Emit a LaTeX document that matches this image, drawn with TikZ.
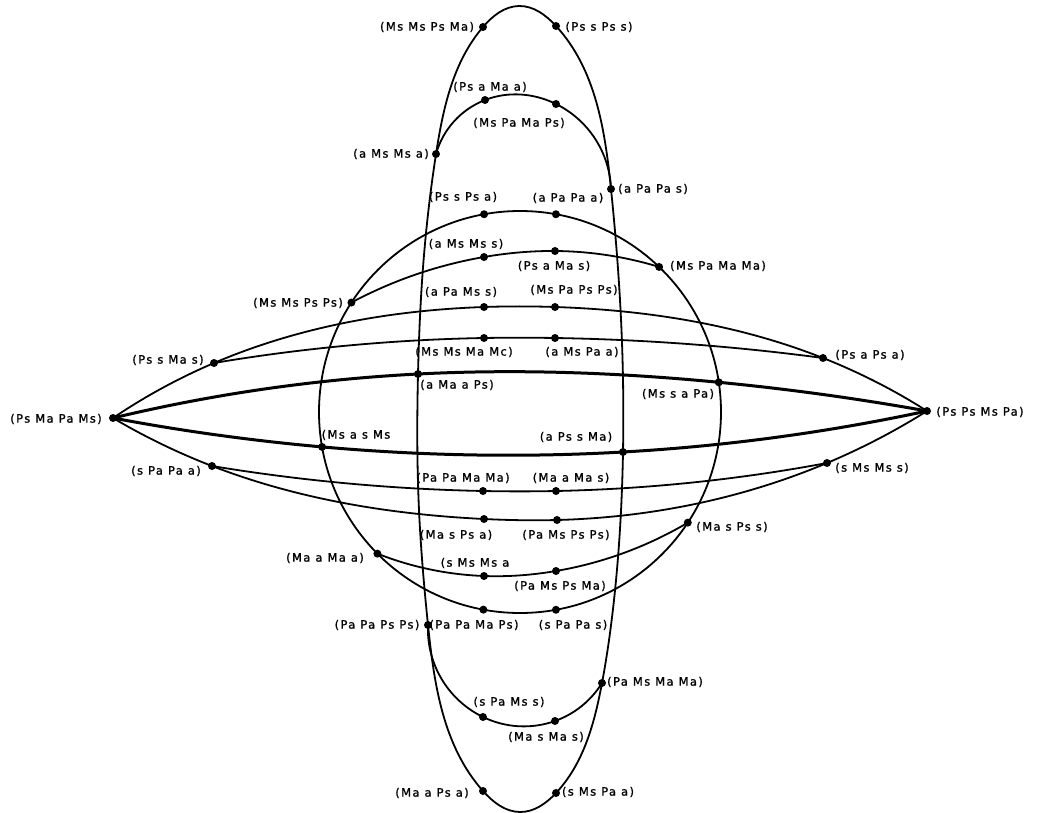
\documentclass[tikz,border=0pt]{standalone}
\usepackage{fontspec}
\setmainfont{DejaVu Sans}[LetterSpace=12,FakeBold=1.2]
\usetikzlibrary{hobby,calc}
\begin{document}
\begin{tikzpicture}[x=1pt,y=-1pt,
  dot/.style={circle,fill=black,inner sep=0pt,minimum size=8pt},
  lbl/.style={inner sep=0pt,font=\fontsize{11.5}{13}\selectfont},
  ln/.style={line width=1.8pt,use Hobby shortcut},
  thk/.style={line width=3pt,use Hobby shortcut}]
\useasboundingbox (0,0) rectangle (1043,813);
% circle centre
\coordinate (C) at (520,412);
% tall shape helper coordinates
\coordinate (tTop) at (519,6);
\coordinate (tR1) at (620,300);
\coordinate (tR2) at (614,600);
\coordinate (tBot) at (520,812);
\coordinate (tL2) at (419,510);
\coordinate (tL1) at (424,255);
% tall shape nodes
\node[dot] (n1) at (483,27) {};
\node[dot] (n2) at (556,26) {};
\node[dot] (n3) at (436,154) {};
\node[dot] (n4) at (611,189) {};
\node[dot] (n5) at (623,452) {};
\node[dot] (n6) at (602,683) {};
\node[dot] (n7) at (556,793) {};
\node[dot] (n8) at (483,791) {};
\node[dot] (n9) at (428,625) {};
\node[dot] (n10) at (418,374) {};
% circle nodes
\node[dot] (c1) at ($(C)+(100.3:201pt)$) {};
\node[dot] (c2) at ($(C)+(79.7:201pt)$) {};
\node[dot] (c3) at ($(C)+(147.0:201pt)$) {};
\node[dot] (c4) at ($(C)+(46.2:201pt)$) {};
\node[dot] (c5) at ($(C)+(190.0:201pt)$) {};
\node[dot] (c6) at ($(C)+(8.5:201pt)$) {};
\node[dot] (c7) at ($(C)+(224.8:201pt)$) {};
\node[dot] (c8) at ($(C)+(326.6:201pt)$) {};
\node[dot] (c9) at ($(C)+(259.5:201pt)$) {};
\node[dot] (c10) at ($(C)+(280.3:201pt)$) {};
% inner arc nodes
\node[dot] (a1) at (485,100) {};
\node[dot] (a2) at (556,104) {};
\node[dot] (b1) at (484,257) {};
\node[dot] (b2) at (555,251) {};
\node[dot] (d1) at (484,576) {};
\node[dot] (d2) at (556,571) {};
\node[dot] (e1) at (483,717) {};
\node[dot] (e2) at (555,721) {};
% lens nodes
\node[dot] (L) at (113,418) {};
\node[dot] (R) at (927,411) {};
\node[dot] (u0) at (214,363) {};
\node[dot] (u1) at (484,307) {};
\node[dot] (u2) at (555,307) {};
\node[dot] (u3) at (823,358) {};
\node[dot] (v1) at (484,338) {};
\node[dot] (v2) at (555,338) {};
\node[dot] (w0) at (212,466) {};
\node[dot] (w1) at (483,491) {};
\node[dot] (w2) at (556,491) {};
\node[dot] (w3) at (827,463) {};
\node[dot] (x1) at (484,519) {};
\node[dot] (x2) at (557,520) {};
% curves
\draw[ln,closed=true] (tTop) .. (n2.center) .. (n4.center) .. (tR1) .. (n5.center) .. (tR2) .. (n6.center) .. (n7.center) .. (tBot) .. (n8.center) .. (n9.center) .. (tL2) .. (n10.center) .. (tL1) .. (n3.center) .. (n1.center);
\draw[line width=1.8pt] (C) circle[radius=201pt];
\draw[ln] (n3.center) .. (a1.center) .. (a2.center) .. (n4.center);
\draw[ln] (c3.center) .. (b1.center) .. (b2.center) .. (c4.center);
\draw[ln] (c7.center) .. (d1.center) .. (d2.center) .. (c8.center);
\draw[ln] (n9.center) .. (e1.center) .. (e2.center) .. (n6.center);
\draw[ln] (L.center) .. (u0.center) .. (u1.center) .. (u2.center) .. (u3.center) .. (R.center);
\draw[ln] (u0.center) .. (v1.center) .. (v2.center) .. (u3.center);
\draw[thk] (L.center) .. (n10.center) .. (c6.center) .. (R.center);
\draw[thk] (L.center) .. (c5.center) .. (n5.center) .. (R.center);
\draw[ln] (w0.center) .. (w1.center) .. (w2.center) .. (w3.center);
\draw[ln] (L.center) .. (w0.center) .. (x1.center) .. (x2.center) .. (w3.center) .. (R.center);
% labels
\node[lbl] (t1) at (427,27) {(Ms Ms Ps Ma)};
\node[lbl] (t2) at (599,27) {(Ps s Ps s)};
\node[lbl] (t3) at (490,87) {(Ps a Ma a)};
\node[lbl] (t4) at (519,123) {(Ms Pa Ma Ps)};
\node[lbl] (t5) at (391,154) {(a Ms Ms a)};
\node[lbl] (t6) at (653,189) {(a Pa Pa s)};
\node[lbl] (t7) at (463,197) {(Ps s Ps a)};
\node[lbl] (t8) at (568,198) {(a Pa Pa a)};
\node[lbl] (t9) at (466,244) {(a Ms Ms s)};
\node[lbl] (t10) at (554,266) {(Ps a Ma s)};
\node[lbl] (t11) at (718,266) {(Ms Pa Ma Ma)};
\node[lbl] (t12) at (298,303) {(Ms Ms Ps Ps)};
\node[lbl] (t13) at (461,292) {(a Pa Ms s)};
\node[lbl] (t14) at (574,290) {(Ms Pa Ps Ps)};
\node[lbl] (t15) at (168,360) {(Ps s Ma s)};
\node[lbl] (t16) at (870,355) {(Ps a Ps a)};
\node[lbl] (t17) at (464,352) {(Ms Ms Ma Mc)};
\node[lbl] (t18) at (582,352) {(a Ms Pa a)};
\node[lbl] (t19) at (457,385) {(a Ma a Ps)};
\node[lbl] (t20) at (56,419) {(Ps Ma Pa Ms)};
\node[lbl] (t21) at (678,394) {(Ms s a Pa)};
\node[lbl] (t22) at (980,412) {(Ps Ps Ms Pa)};
\node[lbl] (t23) at (356,435) {(Ms a s Ms};
\node[lbl] (t24) at (576,437) {(a Ps s Ma)};
\node[lbl] (t25) at (166,471) {(s Pa Pa a)};
\node[lbl] (t26) at (872,468) {(s Ms Ms s)};
\node[lbl] (t27) at (463,478) {(Pa Pa Ma Ma)};
\node[lbl] (t28) at (571,478) {(Ma a Ma s)};
\node[lbl] (t29) at (456,535) {(Ma s Ps a)};
\node[lbl] (t30) at (566,535) {(Pa Ms Ps Ps)};
\node[lbl] (t31) at (732,527) {(Ma s Ps s)};
\node[lbl] (t32) at (325,558) {(Ma a Ma a)};
\node[lbl] (t33) at (475,563) {(s Ms Ms a};
\node[lbl] (t34) at (560,586) {(Pa Ms Ps Ma)};
\node[lbl] (t35) at (377,625) {(Pa Pa Ps Ps)};
\node[lbl] (t36) at (474,625) {(Pa Pa Ma Ps)};
\node[lbl] (t37) at (573,625) {(s Pa Pa s)};
\node[lbl] (t38) at (655,682) {(Pa Ms Ma Ma)};
\node[lbl] (t39) at (509,702) {(s Pa Ms s)};
\node[lbl] (t40) at (546,737) {(Ma s Ma s)};
\node[lbl] (t41) at (432,793) {(Ma a Ps a)};
\node[lbl] (t42) at (598,792) {(s Ms Pa a)};
\end{tikzpicture}
\end{document}
